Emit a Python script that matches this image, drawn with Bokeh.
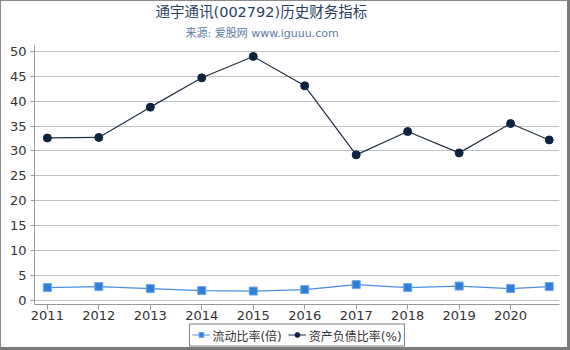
from bokeh.plotting import figure
from bokeh.models import Title, Legend, LegendItem, FixedTicker, Range1d
from bokeh.layouts import column
from bokeh.embed import file_html
from bokeh.resources import INLINE

years = [2011, 2012, 2013, 2014, 2015, 2016, 2017, 2018, 2019, 2020, 2020.75]
tick_years = [2011, 2012, 2013, 2014, 2015, 2016, 2017, 2018, 2019, 2020]
current_ratio = [2.5, 2.7, 2.3, 1.9, 1.8, 2.1, 3.1, 2.5, 2.8, 2.3, 2.7]
debt_ratio = [32.6, 32.7, 38.8, 44.7, 49.0, 43.1, 29.2, 33.9, 29.6, 35.5, 32.2]
y_ticks = [0, 5, 10, 15, 20, 25, 30, 35, 40, 45, 50]
title_text = "通宇通讯(002792)历史财务指标"
subtitle_text = "来源: 爱股网 www.iguuu.com"
labels = ["流动比率(倍)", "资产负债比率(%)"]

FONT = "DejaVu Sans, Noto Sans CJK SC"
C1_LINE, C1_FILL, C1_EDGE = "#4a8ee0", "#2f7ed8", "#6fa6e8"
C2_LINE, C2_FILL = "#1f3048", "#0d2340"

p = figure(width=566, height=321, output_backend="svg", toolbar_location=None,
           x_range=Range1d(2010.75, 2020.95), y_range=Range1d(-0.9, 51.2),
           min_border_left=33, min_border_right=8, min_border_top=0, min_border_bottom=0)
p.outline_line_color = None

p.add_layout(Title(text=subtitle_text, align="left", offset=151, text_font_size="11px",
                   text_font=FONT, text_font_style="normal", text_color="#5b7aa5",
                   standoff=11), "above")
p.add_layout(Title(text=title_text, align="left", offset=121, text_font_size="14.5px",
                   text_font=FONT, text_font_style="normal", text_color="#2a3f5f",
                   standoff=0), "above")

p.line(years, current_ratio, line_color=C1_LINE, line_width=1.2)
p.scatter(years, current_ratio, marker="square", size=8, fill_color=C1_FILL,
          line_color=C1_EDGE, line_width=1)
p.line(years, debt_ratio, line_color=C2_LINE, line_width=1.2)
p.scatter(years, debt_ratio, marker="circle", size=8, fill_color=C2_FILL, line_color=C2_FILL)

p.xaxis.ticker = FixedTicker(ticks=tick_years)
p.yaxis.ticker = FixedTicker(ticks=y_ticks)
p.xgrid.grid_line_color = None
p.ygrid.grid_line_color = "#c0c0c0"
p.ygrid.grid_line_width = 1
for ax in (p.xaxis[0], p.yaxis[0]):
    ax.axis_line_color = "#999999"
    ax.major_tick_line_color = "#999999"
    ax.minor_tick_line_color = None
    ax.major_label_text_font = FONT
    ax.major_label_text_font_size = "13px"
    ax.major_label_text_color = "#333333"
    ax.axis_label_standoff = 0
p.yaxis.major_tick_in = 0
p.yaxis.major_tick_out = 4
p.xaxis.major_tick_in = 0
p.xaxis.major_tick_out = 5
p.yaxis.major_label_standoff = 4
p.xaxis.major_label_standoff = 1

# legend strip (its renderers hold one real point each, lying outside the strip's ranges)
q = figure(width=566, height=25, output_backend="svg", toolbar_location=None,
           x_range=Range1d(0, 1), y_range=Range1d(0, 1),
           min_border_left=0, min_border_right=0, min_border_top=0, min_border_bottom=0)
q.axis.visible = False
q.grid.visible = False
q.outline_line_color = None
l1 = q.line(years[:1], current_ratio[:1], line_color=C1_LINE, line_width=1.2)
s1 = q.scatter(years[:1], current_ratio[:1], marker="square", size=8, fill_color=C1_FILL,
               line_color=C1_EDGE, line_width=1)
l2 = q.line(years[:1], debt_ratio[:1], line_color=C2_LINE, line_width=1.2)
s2 = q.scatter(years[:1], debt_ratio[:1], marker="circle", size=8, fill_color=C2_FILL,
               line_color=C2_FILL)
legend = Legend(items=[LegendItem(label=labels[0], renderers=[l1, s1]),
                       LegendItem(label=labels[1], renderers=[l2, s2])],
                orientation="horizontal", location="center",
                border_line_color="black", border_line_width=1,
                label_text_font=FONT, label_text_font_size="12px", label_text_color="#333333",
                glyph_width=18, glyph_height=12, label_height=12, label_standoff=3, spacing=6,
                padding=2, margin=0)
q.add_layout(legend, "center")

layout = column(p, q, spacing=0)
layout.styles = {"border-left": "1px solid #8a8a8a", "border-top": "1px solid #8a8a8a",
                 "border-right": "3px solid #7a7a7a", "border-bottom": "3px solid #7a7a7a"}

open("out.html", "w").write(file_html(layout, INLINE))
